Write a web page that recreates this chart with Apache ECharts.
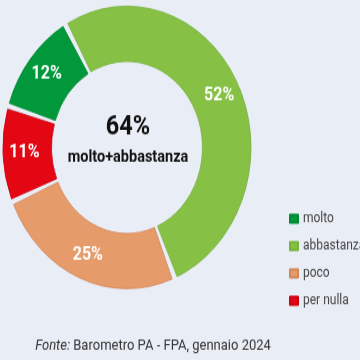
<!DOCTYPE html>
<html>
<head>
<meta charset="utf-8">
<script src="https://cdn.jsdelivr.net/npm/echarts@6/dist/echarts.min.js"></script>
<style>
html,body{margin:0;padding:0;width:360px;height:360px;background:#e9edf5;overflow:hidden;}
#chart{width:360px;height:316px;transform:scaleY(1.1392);transform-origin:0 0;}
</style>
</head>
<body>
<div id="chart"></div>
<script>
const categories = ['molto', 'abbastanza', 'poco', 'per nulla'];
const values = [12, 52, 25, 11];
const colors = ['#00983a', '#86c146', '#e69b6b', '#e30613'];
const borderColors = ['#008a34', '#77b23b', '#d4875a', '#cf0010'];
const centerValue = '64%';
const centerLabel = 'molto+abbastanza';
const sourceItalic = 'Fonte:';
const sourceText = ' Barometro PA - FPA, gennaio 2024';

const chart = echarts.init(document.getElementById('chart'), null, {renderer: 'canvas'});
const font = 'Roboto, "Open Sans", sans-serif';

chart.setOption({
  animation: false,
  backgroundColor: '#e9edf5',
  legend: {
    orient: 'vertical',
    left: 284,
    top: 181,
    itemWidth: 8,
    itemHeight: 7,
    itemGap: 12,
    icon: 'rect',
    selectedMode: false,
    data: categories,
    textStyle: {fontFamily: font, fontSize: 12, color: '#444'}
  },
  graphic: [
    {type: 'text', x: 128, y: 112, style: {text: centerValue, fontFamily: font, fontSize: 23.5, fontWeight: 'bold', fill: '#111', align: 'center', verticalAlign: 'middle'}},
    {type: 'text', x: 128, y: 138.5, style: {text: centerLabel, fontFamily: font, fontSize: 14.5, fontWeight: 'bold', fill: '#111', align: 'center', verticalAlign: 'middle'}},
    {type: 'text', x: 153, y: 304, style: {
      text: '{i|' + sourceItalic + '}{n|' + sourceText + '}',
      align: 'center', verticalAlign: 'middle',
      rich: {
        i: {fontFamily: font, fontSize: 13, fontStyle: 'italic', fill: '#333'},
        n: {fontFamily: font, fontSize: 13, fill: '#333'}
      }
    }}
  ],
  series: [{
    type: 'pie',
    center: [127, 129.4],
    radius: [75.5, 124],
    startAngle: 163,
    clockwise: true,
    padAngle: 2.5,
    silent: true,
    emphasis: {disabled: true},
    label: {
      show: true,
      position: 'inside',
      formatter: '{c}%',
      color: '#fff',
      fontFamily: font,
      fontSize: 16,
      fontWeight: 'bold'
    },
    labelLine: {show: false},
    data: categories.map((c, i) => ({
      name: c,
      value: values[i],
      itemStyle: {color: colors[i], borderColor: borderColors[i], borderWidth: 0.8}
    }))
  }]
});
</script>
</body>
</html>
